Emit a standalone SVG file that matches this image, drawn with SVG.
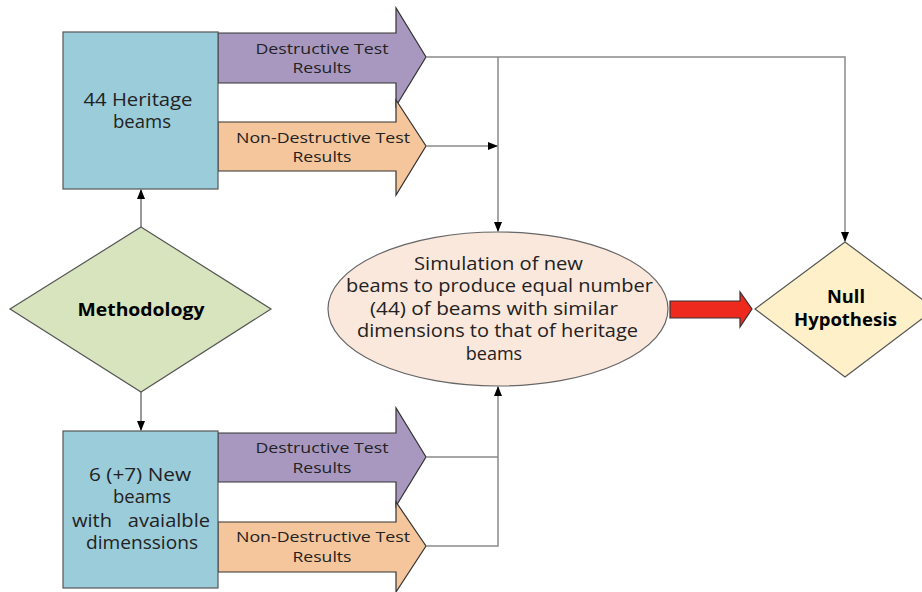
<svg xmlns="http://www.w3.org/2000/svg" width="922" height="592" viewBox="0 0 922 592">
<defs>
<marker id="ah" markerWidth="10" markerHeight="8" refX="9" refY="4" orient="auto" markerUnits="userSpaceOnUse">
<path d="M0,0 L10,4 L0,8 Z" fill="#000"/>
</marker>
<style>
.box{fill:#9BCCDA;stroke:#555;stroke-width:1.2}
.purple{fill:#A898C0;stroke:#333;stroke-width:1.2}
.orange{fill:#F5C59B;stroke:#333;stroke-width:1.2}
.t{font-family:"Open Sans",Lato,"Liberation Sans",sans-serif;fill:#222;text-anchor:middle}
.s{font-size:15px}
.m{font-size:18px}
.b{font-weight:bold;fill:#000}
.conn{fill:none;stroke:#8a8a8a;stroke-width:1.5}
.conn2{fill:none;stroke:#555;stroke-width:1.2}
</style>
</defs>
<rect width="922" height="592" fill="#fff"/>

<g id="top-destructive">
<path class="purple" d="M218,33 L396,33 L396,8 L426,57 L396,106 L396,83 L218,83 Z"/>
<text class="t s" x="322" y="54" textLength="133" lengthAdjust="spacingAndGlyphs">Destructive Test</text>
<text class="t s" x="322" y="73" textLength="59" lengthAdjust="spacingAndGlyphs">Results</text>
</g>
<g id="top-nondestructive">
<path class="orange" d="M218,122 L396,122 L396,100 L426,146 L396,195 L396,171 L218,171 Z"/>
<text class="t s" x="323" y="143" textLength="174" lengthAdjust="spacingAndGlyphs">Non-Destructive Test</text>
<text class="t s" x="322" y="162" textLength="59" lengthAdjust="spacingAndGlyphs">Results</text>
</g>
<g id="heritage">
<rect class="box" x="63" y="32" width="155" height="157"/>
<text class="t m" x="138" y="106" textLength="109" lengthAdjust="spacingAndGlyphs">44 Heritage</text>
<text class="t m" x="142" y="128" textLength="58" lengthAdjust="spacingAndGlyphs">beams</text>
</g>

<g id="bottom-destructive">
<path class="purple" d="M218,433 L396,433 L396,408 L426,457 L396,506 L396,482 L218,482 Z"/>
<text class="t s" x="322" y="453" textLength="133" lengthAdjust="spacingAndGlyphs">Destructive Test</text>
<text class="t s" x="322" y="473" textLength="59" lengthAdjust="spacingAndGlyphs">Results</text>
</g>
<g id="bottom-nondestructive">
<path class="orange" d="M218,522 L396,522 L396,502 L426,546 L396,592 L396,572 L218,572 Z"/>
<text class="t s" x="323" y="542" textLength="174" lengthAdjust="spacingAndGlyphs">Non-Destructive Test</text>
<text class="t s" x="322" y="562" textLength="59" lengthAdjust="spacingAndGlyphs">Results</text>
</g>
<g id="new-beams">
<rect class="box" x="63" y="431" width="155" height="157"/>
<text class="t m" x="140" y="481" textLength="102" lengthAdjust="spacingAndGlyphs">6 (+7) New</text>
<text class="t m" x="142" y="503" textLength="58" lengthAdjust="spacingAndGlyphs">beams</text>
<text class="t m" x="141" y="527" textLength="138" lengthAdjust="spacingAndGlyphs" xml:space="preserve">with   avaialble</text>
<text class="t m" x="142" y="549" textLength="112" lengthAdjust="spacingAndGlyphs">dimenssions</text>
</g>

<g id="methodology">
<path d="M141,227 L271,309 L141,392 L10,309 Z" fill="#D7E4BD" stroke="#555" stroke-width="1.2"/>
<text class="t b" x="141" y="316" font-size="17" textLength="127" lengthAdjust="spacingAndGlyphs">Methodology</text>
</g>

<g id="simulation">
<ellipse cx="498" cy="309" rx="170" ry="77" fill="#FBE8DC" stroke="#666" stroke-width="1.2"/>
<text class="t m" x="498.5" y="270" textLength="169" lengthAdjust="spacingAndGlyphs">Simulation of new</text>
<text class="t m" x="499.5" y="292" textLength="307" lengthAdjust="spacingAndGlyphs">beams to produce equal number</text>
<text class="t m" x="494" y="315" textLength="248" lengthAdjust="spacingAndGlyphs">(44) of beams with similar</text>
<text class="t m" x="497.5" y="337" textLength="281" lengthAdjust="spacingAndGlyphs">dimensions to that of heritage</text>
<text class="t m" x="494" y="360">beams</text>
</g>

<g id="red-arrow">
<path d="M670,301 L740,301 L740,292 L752,309 L740,327 L740,318 L670,318 Z" fill="#EE2A1E" stroke="#333" stroke-width="1.2"/>
</g>

<g id="null-hypothesis">
<path d="M845,242 L935,309 L845,377 L755,309 Z" fill="#FEF0C8" stroke="#555" stroke-width="1.2"/>
<text class="t b" x="846" y="303" font-size="17" textLength="38" lengthAdjust="spacingAndGlyphs">Null</text>
<text class="t b" x="845.5" y="326" font-size="17" textLength="103" lengthAdjust="spacingAndGlyphs">Hypothesis</text>
</g>

<g id="connectors">
<path class="conn2" d="M141,227 L141,190" marker-end="url(#ah)"/>
<path class="conn2" d="M141,392 L141,430" marker-end="url(#ah)"/>
<path class="conn" d="M426,57 L845,57 L845,241" marker-end="url(#ah)"/>
<path class="conn" d="M498,57 L498,231" marker-end="url(#ah)"/>
<path class="conn" d="M426,146 L497,146" marker-end="url(#ah)"/>
<path class="conn" d="M426,457 L498,457"/>
<path class="conn" d="M426,546 L498,546 L498,387" marker-end="url(#ah)"/>
</g>
</svg>
